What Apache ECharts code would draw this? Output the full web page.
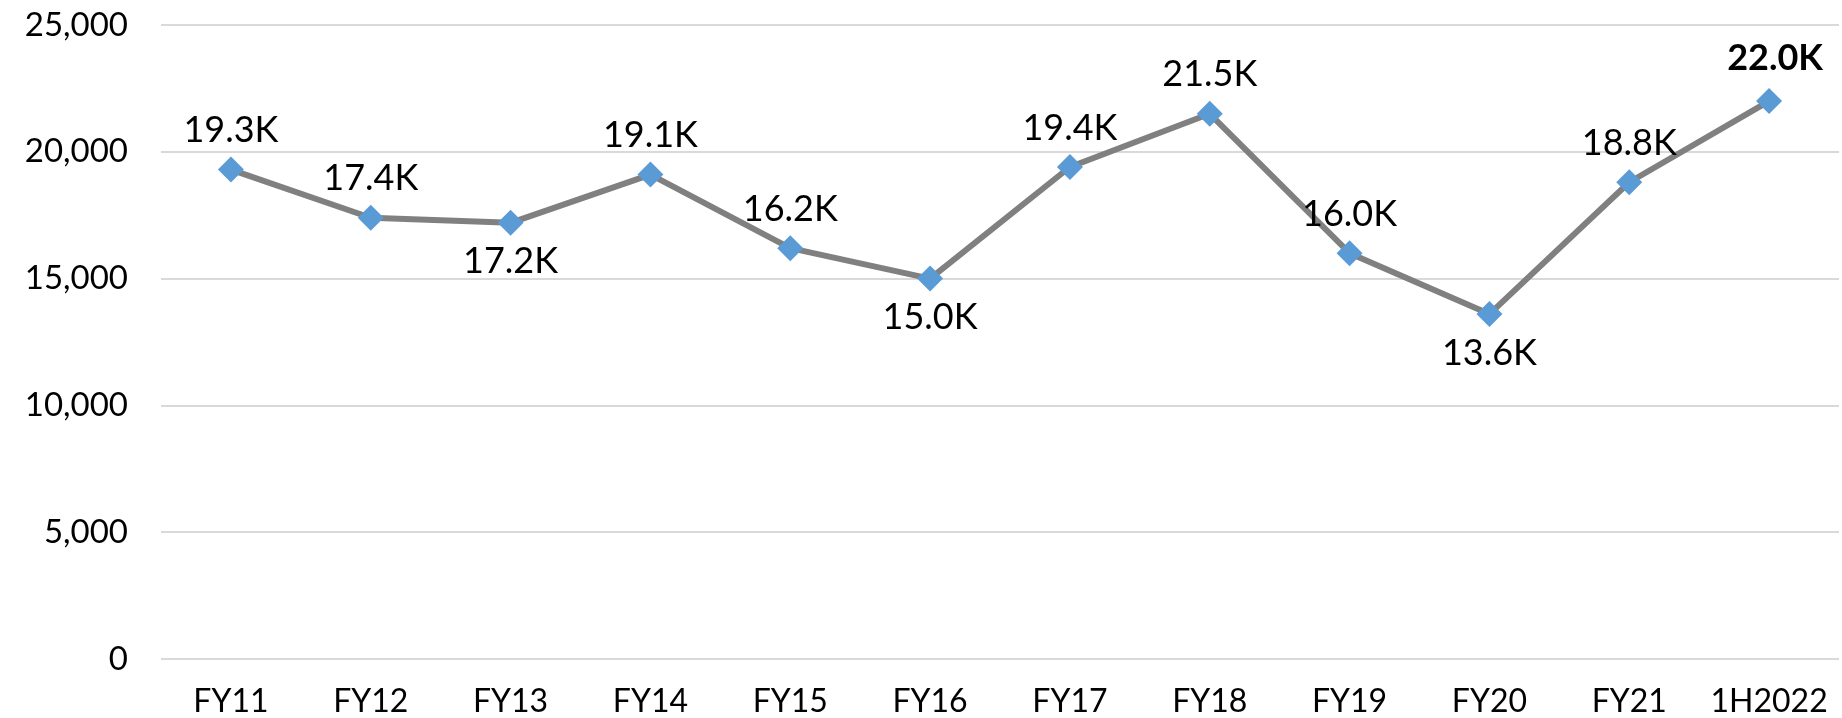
<!DOCTYPE html>
<html>
<head>
<meta charset="utf-8">
<script src="https://cdn.jsdelivr.net/npm/echarts@6/dist/echarts.min.js"></script>
<style>
  html, body { margin: 0; padding: 0; background: #fff; }
  #chart { width: 1842px; height: 718px; }
</style>
</head>
<body>
<div id="chart"></div>
<script>
const categories = ['FY11', 'FY12', 'FY13', 'FY14', 'FY15', 'FY16', 'FY17', 'FY18', 'FY19', 'FY20', 'FY21', '1H2022']
const values = [19300, 17400, 17200, 19100, 16200, 15000, 19400, 21500, 16000, 13600, 18800, 22000]
// which labels sit under the point
const labelBelow = ['FY13', 'FY16', 'FY20']

const fontFamily = 'Lato, "Noto Sans", sans-serif'

const chart = echarts.init(document.getElementById('chart'))

const seriesData = values.map((v, i) => {
  const item = { value: v }
  if (labelBelow.includes(categories[i])) {
    item.label = { position: 'bottom' }
  }
  if (i === values.length - 1) {
    item.label = { fontWeight: 'bold', offset: [6, -4] }
  }
  return item
})

const option = {
  animation: false,
  grid: {
    left: 161,
    right: 3,
    top: 25,
    bottom: 59
  },
  xAxis: {
    type: 'category',
    data: categories,
    boundaryGap: true,
    axisLine: { show: false },
    axisTick: { show: false },
    axisLabel: {
      interval: 0,
      color: '#000',
      fontSize: 32,
      fontFamily: fontFamily,
      margin: 27
    }
  },
  yAxis: {
    type: 'value',
    min: 0,
    max: 25000,
    interval: 5000,
    axisLine: { show: false },
    axisTick: { show: false },
    splitLine: { lineStyle: { color: '#d9d9d9', width: 2 } },
    axisLabel: {
      color: '#000',
      fontSize: 33,
      fontFamily: fontFamily,
      margin: 33,
      formatter: v => v.toLocaleString('en-US')
    }
  },
  series: [
    {
      type: 'line',
      data: seriesData,
      lineStyle: { color: '#808080', width: 6 },
      symbol: 'diamond',
      symbolSize: 26,
      itemStyle: { color: '#5b9bd5' },
      label: {
        show: true,
        position: 'top',
        distance: 8,
        color: '#000',
        fontSize: 36,
        fontFamily: fontFamily,
        formatter: p => (p.value / 1000).toFixed(1) + 'K'
      }
    }
  ]
}

chart.setOption(option)
</script>
</body>
</html>
